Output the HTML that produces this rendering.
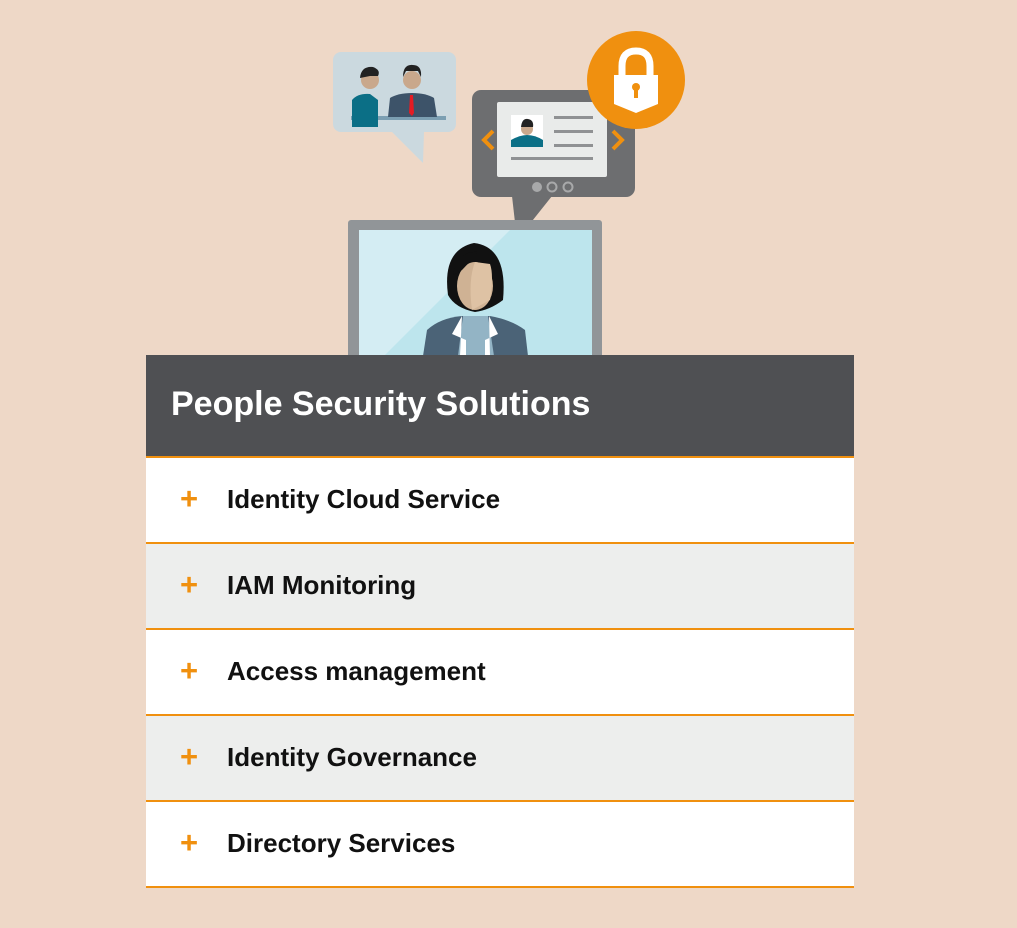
<!DOCTYPE html>
<html><head><style>
body{margin:0;width:1017px;height:928px;background:#eed8c7;position:relative;overflow:hidden;font-family:"Liberation Sans",Arial,sans-serif}
.panel{position:absolute;left:146px;top:355px;width:708px}
.hdr{height:101px;background:#4f5053;color:#fff;font-weight:bold;font-size:34px;letter-spacing:0px;line-height:98px;padding-left:25px;border-bottom:2px solid #f0900f;box-sizing:content-box}
.row{height:84px;border-bottom:2px solid #f0900f;position:relative;font-weight:bold;font-size:26px;letter-spacing:0px;line-height:82px;color:#111}
.row span.t{position:absolute;left:81px}
.row span.p{position:absolute;left:34px;color:#f0900f;font-size:31px;font-weight:bold}
.w{background:#fff}.g{background:#edeeed}
</style></head><body>
<svg width="1017" height="360" style="position:absolute;left:0;top:0">
<rect x="333" y="52" width="123" height="80" rx="8" fill="#cbd9df"/>
<polygon points="392,132 424,132 423,163" fill="#cbd9df"/>
<rect x="351" y="116" width="95" height="4" fill="#7c9fb2"/>
<path d="M352,127 L352,100 Q358,93 370,94 L378,100 L378,127Z" fill="#0b6f86"/>
<circle cx="370" cy="80" r="9" fill="#c9a88c"/><path d="M360,78 Q361,66 373,67 Q381,70 378,76 L370,76 Z" fill="#222"/>
<path d="M388,117 L390,98 Q398,93 412,93 Q426,93 434,98 L437,117Z" fill="#3d5369"/>
<polygon points="410,95 413,95 414,113 412,116 409,113" fill="#e51c23"/>
<circle cx="412" cy="80" r="9" fill="#c9a88c"/><path d="M403,77 Q403,64 413,65 Q422,65 421,77 L418,71 L406,71Z" fill="#222"/>
<rect x="472" y="90" width="163" height="107" rx="9" fill="#6d6e70"/>
<polygon points="512,196 552,196 517,240" fill="#6d6e70"/>
<rect x="497" y="102" width="110" height="75" rx="2" fill="#e9ebea"/>
<rect x="511" y="115" width="32" height="32" fill="#fff"/>
<path d="M511,147 L511,140 Q520,135 527,135 Q535,135 543,140 L543,147Z" fill="#0b6f86"/>
<circle cx="527" cy="129" r="6" fill="#c9a88c"/><path d="M521,127 Q522,118 528,119 Q534,120 533,127Z" fill="#222"/>
<rect x="554" y="116" width="39" height="3" fill="#8f9193"/><rect x="554" y="130" width="39" height="3" fill="#8f9193"/><rect x="554" y="144" width="39" height="3" fill="#8f9193"/><rect x="511" y="157" width="82" height="3" fill="#8f9193"/>
<polyline points="493,131 484,140 493,149" fill="none" stroke="#f0900f" stroke-width="4"/>
<polyline points="613,131 622,140 613,149" fill="none" stroke="#f0900f" stroke-width="4"/>
<circle cx="537" cy="187" r="5" fill="#a8a9aa"/><circle cx="552" cy="187" r="4.5" fill="none" stroke="#a8a9aa" stroke-width="2"/><circle cx="568" cy="187" r="4.5" fill="none" stroke="#a8a9aa" stroke-width="2"/>
<circle cx="636" cy="80" r="49" fill="#f0900f"/>
<path d="M622,76 L622,66 Q622,51 636,51 Q650,51 650,66 L650,76" fill="none" stroke="#fff" stroke-width="7"/>
<path d="M614,75 L658,75 L658,104 L636,113 L614,104Z" fill="#fff"/>
<circle cx="636" cy="87" r="4" fill="#f0900f"/><rect x="634" y="88" width="4" height="10" fill="#f0900f"/>
<rect x="348" y="220" width="254" height="140" rx="3" fill="#919598"/>
<rect x="359" y="230" width="233" height="130" fill="#bde5ed"/>
<polygon points="359,230 510,230 380,360 359,360" fill="#d4edf3"/>
<path d="M423,356 L427,330 Q440,318 462,316 L490,316 Q512,320 525,330 L528,356Z" fill="#4b6377"/>
<polygon points="463,316 488,316 494,356 458,356" fill="#93b4c5"/>
<polygon points="462,316 452,334 466,340 466,356 460,356" fill="#fff"/>
<polygon points="489,316 498,334 485,340 485,356 490,356" fill="#fff"/>
<path d="M448,295 Q442,250 474,243 Q508,247 503,300 Q490,310 475,312 Q455,308 448,295Z" fill="#111"/>
<ellipse cx="475" cy="286" rx="18" ry="24" fill="#cfb294"/>
<path d="M475,262 Q468,280 472,310 L490,300 Q494,275 490,264Z" fill="#dec2a4"/>
<path d="M453,275 Q458,250 478,252 Q470,262 462,270 Z" fill="#111"/>
</svg>
<div class="panel">
<div class="hdr">People Security Solutions</div>
<div class="row w"><span class="p">+</span><span class="t">Identity Cloud Service</span></div>
<div class="row g"><span class="p">+</span><span class="t">IAM Monitoring</span></div>
<div class="row w"><span class="p">+</span><span class="t">Access management</span></div>
<div class="row g"><span class="p">+</span><span class="t">Identity Governance</span></div>
<div class="row w"><span class="p">+</span><span class="t">Directory Services</span></div>
</div>
</body></html>
